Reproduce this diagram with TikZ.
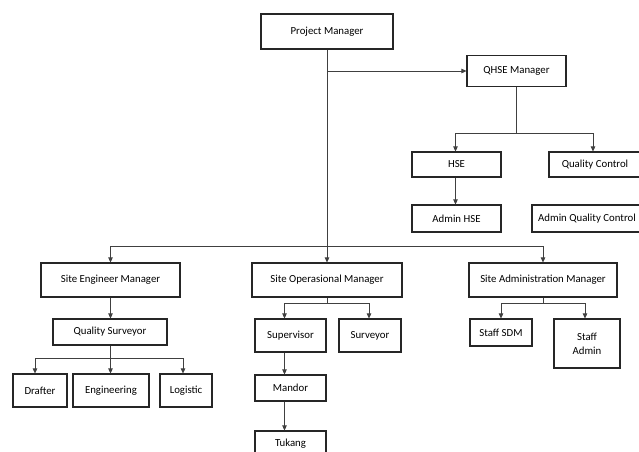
\documentclass[tikz,border=0pt]{standalone}
\usepackage{fontspec}
\setmainfont{Carlito}
\usetikzlibrary{arrows.meta}
\tikzset{
  box/.style={draw=black!85, line width=1.1pt, inner sep=0pt, align=center, font=\fontsize{10.8}{14}\selectfont},
  conn/.style={draw=black!75, line width=0.7pt},
  arr/.style={conn, -{Triangle[length=5pt,width=4.5pt]}}
}
\begin{document}
\begin{tikzpicture}[x=1pt,y=-1pt]
\useasboundingbox (0,0) rectangle (639,451);
% top
\node[box,minimum width=132,minimum height=35] (pm) at (327,31.5) {Project Manager};
\node[box,minimum width=99,minimum height=31] (qhse) at (516.5,71) {QHSE Manager};
\node[box,minimum width=89,minimum height=25] (hse) at (456.5,164.5) {HSE};
\node[box,minimum width=92,minimum height=25] (qc) at (595,164.5) {Quality Control};
\node[box,minimum width=89,minimum height=27] (ahse) at (456.5,218.5) {Admin HSE};
\node[box,minimum width=110,minimum height=27] (aqc) at (587,218.5) {Admin Quality Control};
% managers
\node[box,minimum width=139,minimum height=34] (sem) at (110.5,280) {Site Engineer Manager};
\node[box,minimum width=150,minimum height=34] (som) at (327,280) {Site Operasional Manager};
\node[box,minimum width=148,minimum height=34] (sam) at (543,280) {Site Administration Manager};
% engineer branch
\node[box,minimum width=114,minimum height=26] (qs) at (110,332) {Quality Surveyor};
\node[box,minimum width=54,minimum height=33] (drafter) at (40,390.5) {Drafter};
\node[box,minimum width=76,minimum height=33] (eng) at (111,390.5) {Engineering};
\node[box,minimum width=52,minimum height=33] (logi) at (186,390.5) {Logistic};
% operational branch
\node[box,minimum width=71,minimum height=33] (sup) at (290.5,335.5) {Supervisor};
\node[box,minimum width=62,minimum height=33] (surv) at (370,335.5) {Surveyor};
\node[box,minimum width=71,minimum height=26] (mandor) at (290.5,388) {Mandor};
\node[box,minimum width=71,minimum height=26] (tukang) at (290.5,444) {Tukang};
% admin branch
\node[box,minimum width=62,minimum height=27] (sdm) at (501,332.5) {Staff SDM};
\node[box,minimum width=66,minimum height=49] (sadm) at (587,343.5) {Staff\\Admin};
% connectors
\draw[arr] (pm.south) -- (som.north);
\coordinate (b1) at (327,246);
\draw[arr] (b1) -| (sem.north);
\draw[arr] (b1) -| (sam.north);
\coordinate (q1) at (pm.south |- qhse.west);
\draw[arr] (q1) -- (qhse.west);
\coordinate (q2) at (516.5,133);
\draw[conn] (qhse.south) -- (q2);
\draw[arr] (q2) -| ([xshift=-1]hse.north);
\draw[arr] (q2) -| ([xshift=-2]qc.north);
\draw[arr] ([xshift=-1]hse.south) -- ([xshift=-1]ahse.north);
\draw[arr] (sem.south) -- ([xshift=0.5]qs.north);
\coordinate (s1) at (110.5,358);
\draw[conn] ([xshift=0.5]qs.south) -- (s1);
\draw[arr] (s1) -| ([xshift=-5]drafter.north);
\draw[arr] (s1) -| ([xshift=-0.5]eng.north);
\draw[arr] (s1) -| ([xshift=-3]logi.north);
\coordinate (o1) at (327,303);
\draw[conn] (som.south) -- (o1);
\draw[arr] (o1) -| ([xshift=-6]sup.north);
\draw[arr] (o1) -| ([xshift=-1]surv.north);
\draw[arr] ([xshift=-6]sup.south) -- ([xshift=-6]mandor.north);
\draw[arr] ([xshift=-6]mandor.south) -- ([xshift=-6]tukang.north);
\coordinate (a1) at (543,303);
\draw[conn] (sam.south) -- (a1);
\draw[arr] (a1) -| (sdm.north);
\draw[arr] (a1) -| ([xshift=-2]sadm.north);
\end{tikzpicture}
\end{document}
